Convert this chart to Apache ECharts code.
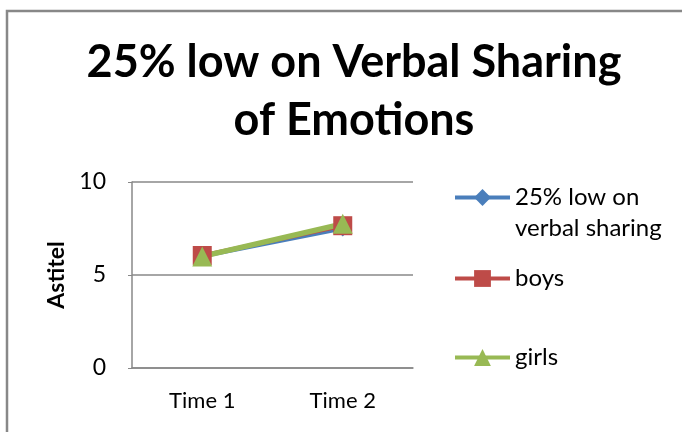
<!DOCTYPE html>
<html>
<head>
<meta charset="utf-8">
<script src="https://cdn.jsdelivr.net/npm/echarts@6/dist/echarts.min.js"></script>
<style>
	html, body { margin: 0; padding: 0; background: #fff; }
	#chart { width: 682px; height: 432px; }
</style>
</head>
<body>
<div id="chart"></div>
<script>
	// 数据
	var categories = ['Time 1', 'Time 2'];
	var lowVerbal = [6.0, 7.5];   // 25% low on verbal sharing
	var boys = [6.05, 7.65];
	var girls = [6.0, 7.75];
	var yTicks = [0, 5, 10];

	var myChart = echarts.init(document.getElementById('chart'));

	var font = 'Lato, "Noto Sans", sans-serif';

	function legendFor(name, top) {
		return {
			data: [name],
			left: 453,
			top: top,
			padding: 0,
			itemWidth: 55,
			itemHeight: 21,
			itemGap: 0,
			selectedMode: false,
			lineStyle: { width: 4 },
			formatter: function (n) {
				// 第一行与图标对齐
				if (n === '25% low on verbal sharing') return '\n25% low on\nverbal sharing';
				return n;
			},
			textStyle: { fontFamily: font, fontSize: 24, color: '#000', lineHeight: 31 }
		};
	}

	myChart.setOption({
		animation: false,
		backgroundColor: '#fff',
		title: {
			text: '25% low on Verbal Sharing\nof Emotions',
			left: 349,
			top: 28,
			textAlign: 'center',
			textStyle: { fontFamily: font, fontWeight: 'bold', fontSize: 45, lineHeight: 58, color: '#000' }
		},
		legend: [
			legendFor('25% low on verbal sharing', 151),
			legendFor('boys', 263),
			legendFor('girls', 342)
		],
		grid: { left: 132, right: 269, top: 182, bottom: 64 },
		xAxis: {
			type: 'category',
			data: categories,
			boundaryGap: true,
			axisLine: { lineStyle: { color: '#888', width: 1.5 } },
			axisTick: { show: false },
			axisLabel: { fontFamily: font, fontSize: 22, color: '#000', margin: 22 }
		},
		yAxis: {
			type: 'value',
			min: yTicks[0],
			max: yTicks[yTicks.length - 1],
			interval: yTicks[1] - yTicks[0],
			name: 'Astitel',
			nameLocation: 'middle',
			nameGap: 64,
			nameTextStyle: { fontFamily: font, fontWeight: 'bold', fontSize: 23, color: '#000' },
			axisLine: { show: true, lineStyle: { color: '#888', width: 1.5 } },
			axisTick: { show: true, length: 4, lineStyle: { color: '#888' } },
			splitLine: { lineStyle: { color: '#888', width: 1.5 } },
			axisLabel: { fontFamily: font, fontSize: 23, color: '#000', margin: 26 }
		},
		series: [
			{
				name: '25% low on verbal sharing',
				type: 'line',
				data: lowVerbal,
				symbol: 'diamond',
				symbolSize: 16,
				itemStyle: { color: '#4A7EBB' },
				lineStyle: { color: '#4A7EBB', width: 4 }
			},
			{
				name: 'boys',
				type: 'line',
				data: boys,
				symbol: 'rect',
				symbolSize: 19,
				itemStyle: { color: '#BE4B48' },
				lineStyle: { color: '#BE4B48', width: 4 }
			},
			{
				name: 'girls',
				type: 'line',
				data: girls,
				symbol: 'triangle',
				symbolSize: 20,
				itemStyle: { color: '#98B954' },
				lineStyle: { color: '#98B954', width: 5.5 }
			}
		],
		graphic: [{
			type: 'polyline',
			shape: { points: [[7, 440], [7, 11], [690, 11]] },
			style: { fill: null, stroke: '#888', lineWidth: 2.5 },
			silent: true
		}]
	});
</script>
</body>
</html>
